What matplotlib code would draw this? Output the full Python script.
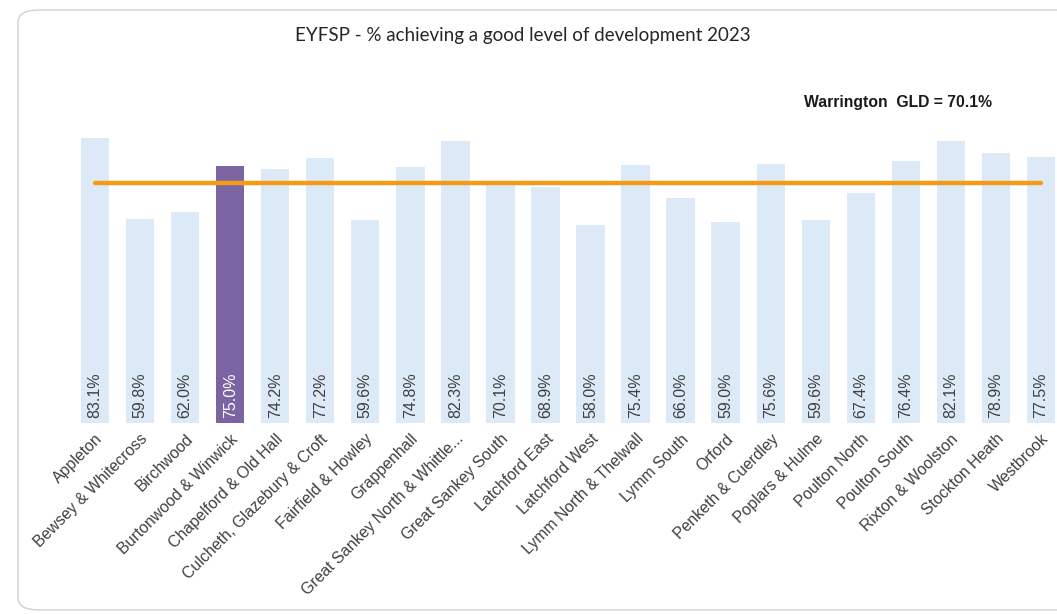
import matplotlib
matplotlib.use("Agg")
import matplotlib.pyplot as plt
from matplotlib.patches import FancyBboxPatch
import matplotlib.font_manager as fm

names = {f.name for f in fm.fontManager.ttflist}
narrow = "Liberation Sans Narrow" if "Liberation Sans Narrow" in names else "Liberation Sans"

categories = ["Appleton", "Bewsey & Whitecross", "Birchwood", "Burtonwood & Winwick",
              "Chapelford & Old Hall", "Culcheth, Glazebury & Croft", "Fairfield & Howley",
              "Grappenhall", "Great Sankey North & Whittle...", "Great Sankey South",
              "Latchford East", "Latchford West", "Lymm North & Thelwall", "Lymm South",
              "Orford", "Penketh & Cuerdley", "Poplars & Hulme", "Poulton North",
              "Poulton South", "Rixton & Woolston", "Stockton Heath", "Westbrook"]
values = [83.1, 59.8, 62.0, 75.0, 74.2, 77.2, 59.6, 74.8, 82.3, 70.1, 68.9, 58.0,
          75.4, 66.0, 59.0, 75.6, 59.6, 67.4, 76.4, 82.1, 78.9, 77.5]
highlight = "Burtonwood & Winwick"
warrington_gld = 70.1
title = "EYFSP - % achieving a good level of development 2023"

W, H = 1057, 614
fig = plt.figure(figsize=(W / 100, H / 100), dpi=100)
fig.patch.set_facecolor("white")

# rounded frame
frame = FancyBboxPatch((18 / W, 4 / H), (W + 20) / W, (H - 14) / H,
                       boxstyle="round,pad=0,rounding_size=0.02",
                       transform=fig.transFigure, facecolor="white",
                       edgecolor="#d0d0d0", linewidth=1.0, zorder=-5)
fig.patches.append(frame)

ymin, ymax = 1.4, 95
px_per_unit = 3.49
ax_bottom_px = 423
ax_h_px = (ymax - ymin) * px_per_unit
ax_left_px, ax_right_px = 72.5, 1063.5
ax = fig.add_axes([ax_left_px / W, (H - ax_bottom_px) / H,
                   (ax_right_px - ax_left_px) / W, ax_h_px / H])
ax.set_facecolor("none")

x = list(range(len(categories)))
colors = ["#7A64A1" if c == highlight else "#DCE9F6" for c in categories]
ax.bar(x, values, width=0.63, color=colors, zorder=2)
ax.plot(x, [warrington_gld] * len(x), color="#F39B17", linewidth=3.2,
        solid_capstyle="round", zorder=3)

for xi, v, c in zip(x, values, categories):
    ax.text(xi, ymin + 1.3, f"{v:.1f}%", rotation=90, ha="center", va="bottom",
            fontsize=11.5, family="Liberation Sans",
            color="white" if c == highlight else "#404040", zorder=4)

ax.set_xlim(-0.5, len(x) - 0.5)
ax.set_ylim(ymin, ymax)
ax.set_yticks([])
ax.set_xticks(x)
ax.set_xticklabels(categories, rotation=45, ha="right", rotation_mode="anchor",
                   fontsize=11.4, family="Liberation Sans", color="#404040")
ax.tick_params(axis="x", length=0, pad=6)
for s in ax.spines.values():
    s.set_visible(False)

fig.text(523 / W, 1 - 36 / H, title, ha="center", va="center", fontsize=13.5,
         family="Lato", color="#262626")
fig.text(898 / W, 1 - 103 / H, "Warrington  GLD = 70.1%", ha="center", va="center",
         fontsize=11.3, fontweight="bold", family=narrow, color="#1a1a1a")

fig.savefig("out.png", dpi=100, facecolor="white")
